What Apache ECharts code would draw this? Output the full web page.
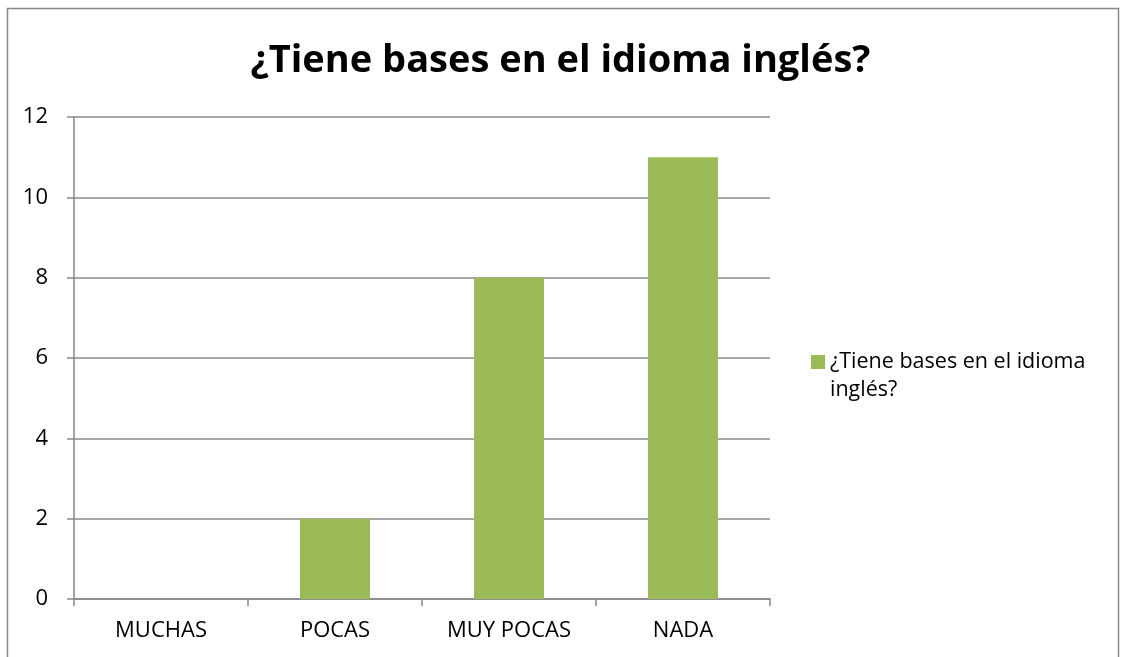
<!DOCTYPE html>
<html>
<head>
<meta charset="utf-8">
<script src="https://cdn.jsdelivr.net/npm/echarts@6/dist/echarts.min.js"></script>
<style>
html, body { margin: 0; padding: 0; background: #fff; }
#chart { width: 1121px; height: 657px; }
</style>
</head>
<body>
<div id="chart"></div>
<script>
var categories = ['MUCHAS', 'POCAS', 'MUY POCAS', 'NADA'];
var values = [0, 2, 8, 11];
var seriesName = '¿Tiene bases en el idioma inglés?';
var titleText = '¿Tiene bases en el idioma inglés?';

var dom = document.getElementById('chart');
var myChart = echarts.init(dom);
var font = "'Open Sans', sans-serif";

var option = {
	animation: false,
	backgroundColor: '#fff',
	title: {
		text: titleText,
		left: 'center',
		top: 37,
		textStyle: {
			fontFamily: font,
			fontWeight: 'bold',
			fontSize: 38,
			color: '#000'
		}
	},
	legend: {
		data: [seriesName],
		orient: 'vertical',
		left: 811,
		top: 320,
		padding: 0,
		itemWidth: 14,
		itemHeight: 14,
		itemGap: 6,
		icon: 'rect',
		// empty first line keeps the icon level with the first text line
		formatter: function () {
			return ' \n¿Tiene bases en el idioma\ninglés?';
		},
		textStyle: {
			fontFamily: font,
			fontSize: 21.5,
			color: '#000',
			lineHeight: 28
		}
	},
	graphic: [{
		type: 'rect',
		shape: { x: 7.5, y: 8.5, width: 1111, height: 700 },
		style: { fill: 'none', stroke: '#888', lineWidth: 1.5 },
		silent: true
	}],
	grid: {
		left: 74,
		right: 351,
		top: 117,
		bottom: 58,
		containLabel: false
	},
	xAxis: {
		type: 'category',
		data: categories,
		axisLine: { show: true, lineStyle: { color: '#888', width: 1.5 } },
		axisTick: { show: true, length: 7, lineStyle: { color: '#888', width: 1.5 } },
		axisLabel: {
			fontFamily: font,
			fontSize: 22,
			color: '#000',
			margin: 21
		}
	},
	yAxis: {
		type: 'value',
		min: 0,
		max: 12,
		interval: 2,
		axisLine: { show: true, lineStyle: { color: '#888', width: 1.5 } },
		axisTick: { show: true, length: 7, lineStyle: { color: '#888', width: 1.5 } },
		axisLabel: {
			fontFamily: font,
			fontSize: 22,
			color: '#000',
			margin: 26
		},
		splitLine: { show: true, lineStyle: { color: '#888', width: 1.5 } }
	},
	series: [{
		name: seriesName,
		type: 'bar',
		barWidth: 70,
		itemStyle: { color: '#9BBB59' },
		data: values
	}]
};
myChart.setOption(option);
</script>
</body>
</html>
